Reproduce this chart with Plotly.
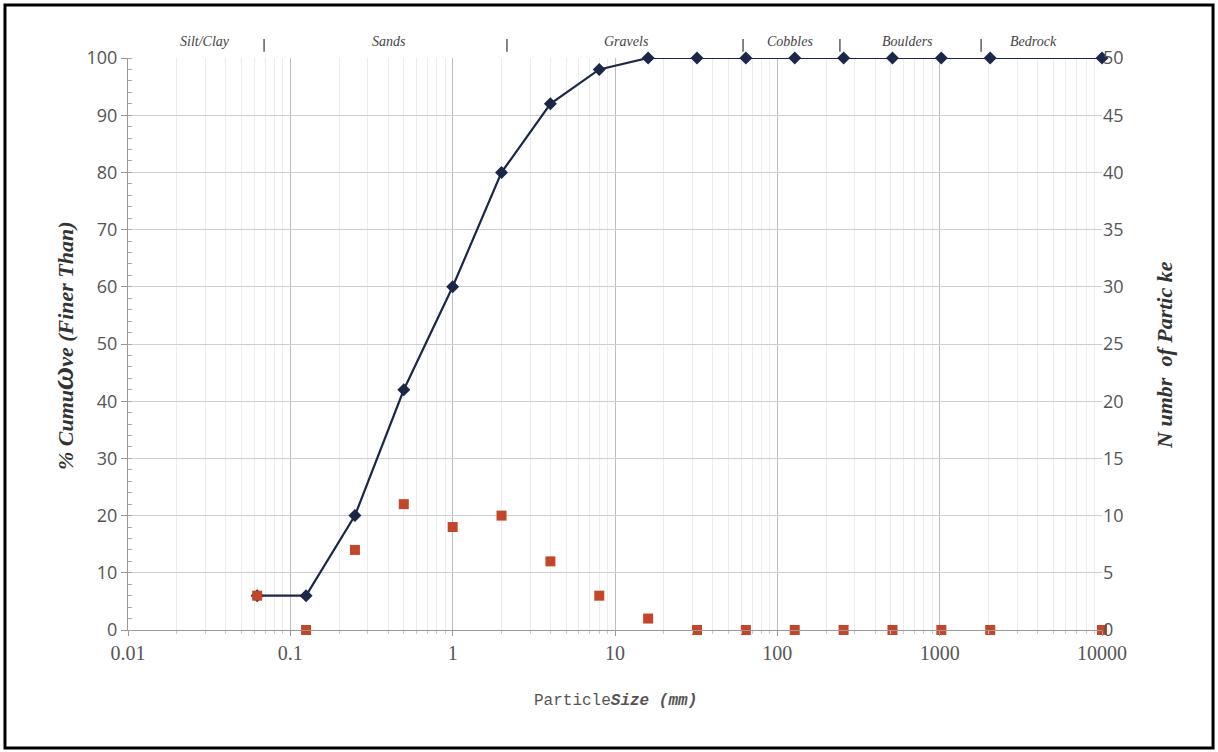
import math
import plotly.graph_objects as go

# Sieve sizes (mm), cumulative % finer, and particle counts per size class
sizes_mm = [0.0625, 0.125, 0.25, 0.5, 1, 2, 4, 8, 16, 32, 64, 128, 256, 512, 1024, 2048, 10000]
cumulative_pct = [6, 6, 20, 42, 60, 80, 92, 98, 100, 100, 100, 100, 100, 100, 100, 100, 100]
particle_count = [3, 0, 7, 11, 9, 10, 6, 3, 1, 0, 0, 0, 0, 0, 0, 0, 0]

# Size-class bands along the top of the chart
class_names = ["Silt/Clay", "Sands", "Gravels", "Cobbles", "Boulders", "Bedrock"]
class_centers_mm = [0.0298, 0.406, 11.7, 120, 630, 3760]
class_bounds_mm = [0.0689, 2.16, 61.5, 243, 1800]

x_tick_vals = [0.01, 0.1, 1, 10, 100, 1000, 10000]
x_tick_text = ["0.01", "0.1", "1", "10", "100", "1000", "10000"]

NAVY = "#1b2748"
RUST = "#c4462a"

fig = go.Figure()

fig.add_trace(go.Scatter(
    x=sizes_mm, y=cumulative_pct, mode="lines+markers",
    line=dict(color=NAVY, width=2.2),
    marker=dict(symbol="diamond", size=10, color=NAVY),
    cliponaxis=False, showlegend=False, yaxis="y",
))

fig.add_trace(go.Scatter(
    x=sizes_mm, y=particle_count, mode="markers",
    marker=dict(symbol="square", size=10, color=RUST),
    cliponaxis=False, showlegend=False, yaxis="y2",
))

fig.update_layout(
    width=1218, height=752,
    margin=dict(l=128, r=116, t=58, b=122),
    paper_bgcolor="white", plot_bgcolor="white",
    xaxis=dict(
        type="log", range=[-2, 4],
        tickvals=x_tick_vals, ticktext=x_tick_text,
        tickfont=dict(family="Liberation Serif", size=20, color="#555"),
        ticks="outside", ticklen=5, tickcolor="#999",
        showgrid=True, gridcolor="#bdbdbd", gridwidth=1,
        minor=dict(dtick="D1", showgrid=True, gridcolor="#ececec", gridwidth=1,
                   ticks="outside", ticklen=3, tickcolor="#c8c8c8"),
        showline=True, linecolor="#999", linewidth=1,
        zeroline=False,
    ),
    yaxis=dict(
        range=[0, 100], dtick=10,
        tickfont=dict(family="Open Sans", size=18, color="#555"),
        ticks="outside", ticklen=6, tickcolor="#999",
        minor=dict(dtick=2, ticks="inside", ticklen=4, tickcolor="#aaa", showgrid=False),
        showgrid=True, gridcolor="#cfcfcf", gridwidth=1,
        showline=True, linecolor="#999", linewidth=1,
        zeroline=False,
    ),
    yaxis2=dict(
        range=[0, 50], dtick=5, overlaying="y", side="right",
        tickfont=dict(family="Open Sans", size=18, color="#555"),
        ticks="", showgrid=False, showline=False, zeroline=False,
    ),
)

# Size-class names and separators above the plot
for name, c in zip(class_names, class_centers_mm):
    fig.add_annotation(
        x=math.log10(c), y=1.0297, xref="x", yref="paper",
        xanchor="center", yanchor="middle",
        text=f"<i>{name}</i>", showarrow=False,
        font=dict(family="Liberation Serif", size=14, color="#444"),
    )
for b in class_bounds_mm:
    fig.add_shape(
        type="line", xref="x", yref="paper",
        x0=b, x1=b, y0=1.011, y1=1.033,
        line=dict(color="#444", width=1.3),
    )

# Axis titles
fig.add_annotation(
    x=-0.0678, y=0.498, xref="paper", yref="paper", textangle=-90,
    xanchor="center", yanchor="middle",
    text="<b><i>% Cumu<span style='font-size:32px'>ω</span>ve (Finer Than)</i></b>",
    showarrow=False, font=dict(family="Liberation Serif", size=22, color="#333"),
)
fig.add_annotation(
    x=1.0647, y=0.481, xref="paper", yref="paper", textangle=-90,
    xanchor="center", yanchor="middle",
    text="<b><i>N umbr  of Partic ke</i></b>",
    showarrow=False, font=dict(family="Liberation Serif", size=22, color="#333"),
)
fig.add_annotation(
    x=0.5, y=-0.124, xref="paper", yref="paper",
    xanchor="center", yanchor="middle",
    text="Particle<b><i>Size (mm)</i></b>",
    showarrow=False, font=dict(family="Liberation Mono", size=16, color="#555"),
)

# Outer frame
fig.add_shape(
    type="rect", xref="paper", yref="paper",
    x0=-0.1263, x1=1.1140, y0=-0.2063, y1=1.0927,
    line=dict(color="black", width=3),
)

fig.write_html("out.html")
